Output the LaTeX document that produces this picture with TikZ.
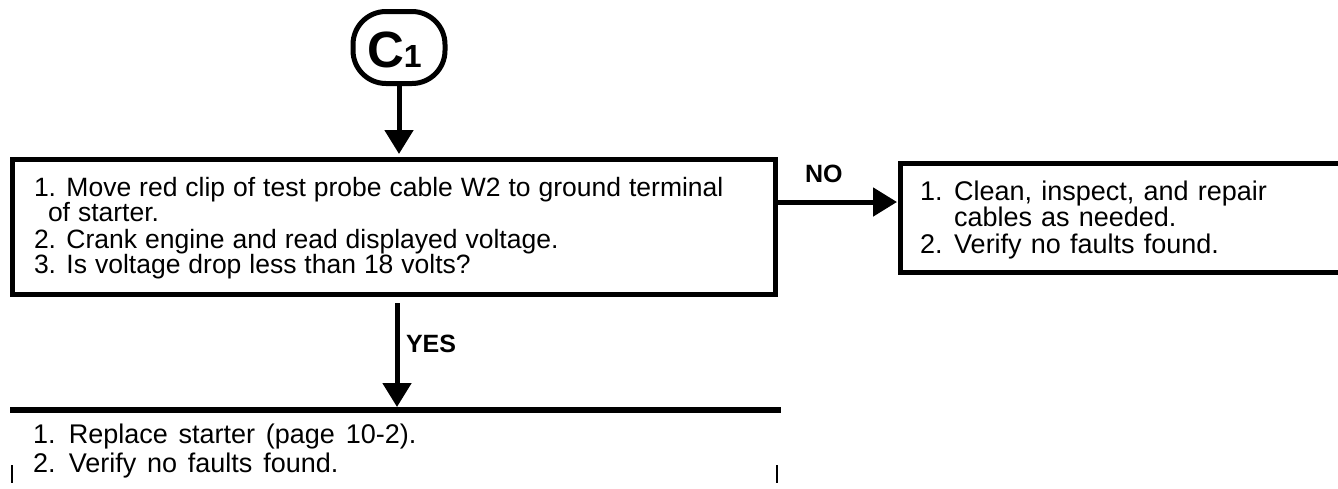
\documentclass[tikz,border=0pt]{standalone}
\usepackage{fontspec}
\setmainfont{Liberation Sans}
\usetikzlibrary{arrows.meta,shapes.geometric}
\begin{document}
\begin{tikzpicture}[x=1pt,y=-1pt,
  every node/.style={inner sep=0pt,outer sep=0pt},
  boxframe/.style={draw,line width=5pt,rectangle},
  txt/.style={anchor=base west,font={\fontsize{26.5}{30}\selectfont\spaceskip=0.3em\relax}},
  txtb/.style={anchor=base west,font={\fontsize{27}{30}\selectfont\spaceskip=0.34em\relax}},
  txtc/.style={anchor=base west,font={\fontsize{27}{30}\selectfont\spaceskip=0.4em\relax}},
  lbl/.style={anchor=base west,font={\fontsize{25}{30}\selectfont\bfseries}},
  flow/.style={line width=5pt,-{Triangle[length=24pt,width=28pt]}},
  tick/.style={line width=2pt}]
\useasboundingbox (0,0) rectangle (1338,488);
\clip (0,0) rectangle (1338,488);
% connector oval
\node[draw,line width=5pt,rectangle,rounded corners=33pt,minimum width=92pt,minimum height=72pt] (c1) at (399,47.5) {};
\node[anchor=base west] (c1t) at (367,67) {\fontsize{51}{51}\selectfont\bfseries C\fontsize{32}{32}\selectfont 1};
% boxes
\node[boxframe,minimum width=762.5pt,minimum height=135pt] (box1) at (393.75,226.5) {};
\node[boxframe,minimum width=460pt,minimum height=109pt] (box2) at (1130,217.5) {};
\coordinate (b3w) at (10,410);
\coordinate (b3e) at (781,410);
\draw[line width=5.5pt] (b3w) -- (b3e);
% texts box1
\node[txt] (t11) at (34,196) {1. Move red clip of test probe cable W2 to ground terminal};
\node[txt] (t12) at (48,221) {of starter.};
\node[txt] (t13) at (34,248) {2. Crank engine and read displayed voltage.};
\node[txt] (t14) at (34,273) {3. Is voltage drop less than 18 volts?};
% texts box2
\node[txtb] (t21) at (920,200) {1. Clean, inspect, and repair};
\node[txtb] (t22) at (954,226) {cables as needed.};
\node[txtb] (t23) at (920,253) {2. Verify no faults found.};
% texts bottom
\node[txtc] (t31) at (33,443) {1. Replace starter (page 10-2).};
\node[txtc] (t32) at (33,472) {2. Verify no faults found.};
% connectors
\draw[flow,shorten >=5pt] (c1.south) -- (c1.south |- box1.north);
\coordinate (nostart) at (775,202);
\draw[flow,shorten >=3pt] (nostart) -- (nostart -| box2.west);
\node[lbl] (no) at (805,182) {NO};
\coordinate (ysstart) at (397,303);
\draw[flow,shorten >=3pt] (ysstart) -- (ysstart |- b3w);
\node[lbl] (yes) at (406,352) {YES};
% small ticks
\coordinate (tk1) at (12,465);
\coordinate (tk2) at (777,465);
\draw[tick] (tk1) -- ++(0,18);
\draw[tick] (tk2) -- ++(0,18);
\end{tikzpicture}
\end{document}
